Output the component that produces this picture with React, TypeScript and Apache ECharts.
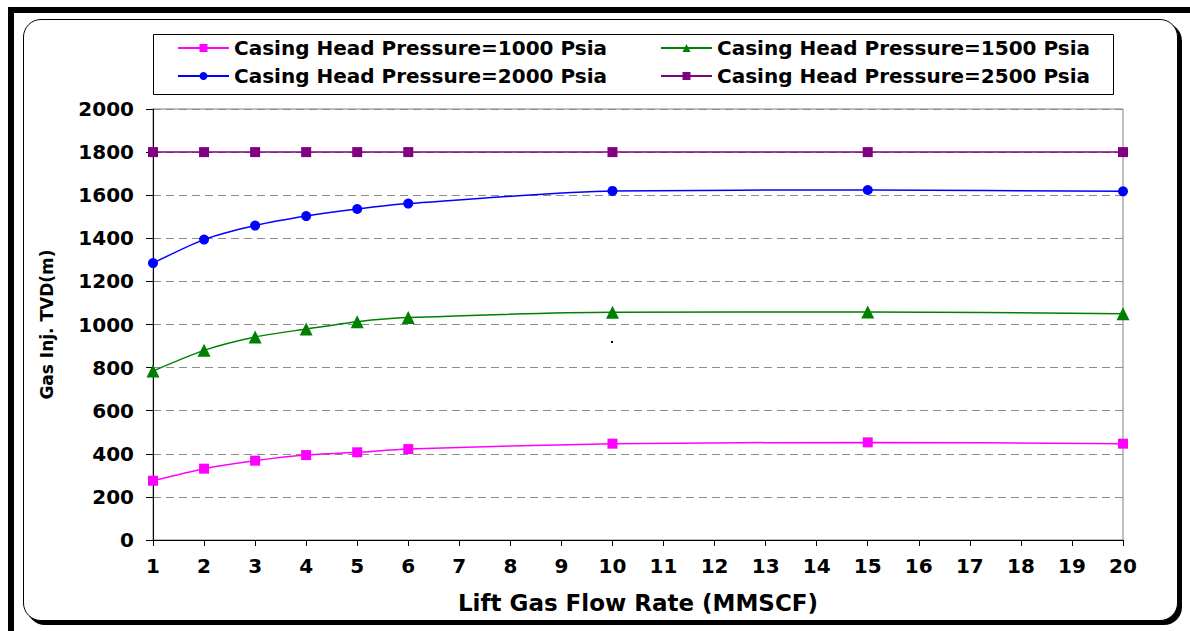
import React, { useEffect, useRef } from "react";
import * as echarts from "echarts";

const xValues = [1, 2, 3, 4, 5, 6, 10, 15, 20];
const chp1000 = [275, 331, 368, 394, 407, 422, 447, 453, 447];
const chp1500 = [784, 880, 942, 979, 1013, 1032, 1057, 1058, 1050];
const chp2000 = [1285, 1394, 1459, 1503, 1536, 1561, 1620, 1624, 1618];
const chp2500 = [1800, 1800, 1800, 1800, 1800, 1800, 1800, 1800, 1800];

const seriesNames = [
  "Casing Head Pressure=1000 Psia",
  "Casing Head Pressure=1500 Psia",
  "Casing Head Pressure=2000 Psia",
  "Casing Head Pressure=2500 Psia",
];
const xTitle = "Lift Gas Flow Rate (MMSCF)";
const yTitle = "Gas Inj. TVD(m)";

const FONT = "'DejaVu Sans', Verdana, sans-serif";

const toPairs = (vals: number[]) => xValues.map((x, i) => [x, vals[i]]);

export default function App() {
  const ref = useRef<HTMLDivElement>(null);
  useEffect(() => {
    if (!ref.current) return;
    const chart = echarts.init(ref.current, undefined, { renderer: "svg" });
    const mk = (
      name: string,
      vals: number[],
      color: string,
      symbol: string,
      size: number
    ) => ({
      name,
      type: "line",
      data: toPairs(vals),
      smooth: 0.25,
      symbol,
      symbolSize: size,
      showSymbol: true,
      lineStyle: { color, width: 1.5 },
      itemStyle: { color, borderWidth: 0 },
      z: 3,
    });
    const legendText = {
      color: "#000",
      fontFamily: FONT,
      fontWeight: "bold",
      fontSize: 20,
    };
    chart.setOption({
      animation: false,
      backgroundColor: "transparent",
      grid: {
        left: 153,
        right: 67,
        top: 109,
        bottom: 91,
        show: true,
        borderColor: "#808080",
        borderWidth: 1,
        backgroundColor: "transparent",
      },
      legend: [
        {
          data: [seriesNames[0], seriesNames[2]],
          orient: "vertical",
          left: 177,
          top: 38,
          padding: 0,
          itemGap: 8,
          itemWidth: 51,
          itemHeight: 10,
          textStyle: legendText,
          selectedMode: false,
        },
        {
          data: [seriesNames[1], seriesNames[3]],
          orient: "vertical",
          left: 660,
          top: 38,
          padding: 0,
          itemGap: 8,
          itemWidth: 51,
          itemHeight: 10,
          textStyle: legendText,
          selectedMode: false,
        },
      ],
      graphic: [
        {
          type: "rect",
          shape: { x: 153.5, y: 34.5, width: 960, height: 60 },
          style: { fill: "none", stroke: "#000", lineWidth: 1 },
          z: 0,
        },
        {
          type: "rect",
          shape: { x: 611, y: 341, width: 2, height: 2 },
          style: { fill: "#000" },
          z: 0,
        },
      ],
      xAxis: {
        type: "value",
        min: 1,
        max: 20,
        interval: 1,
        name: xTitle,
        nameLocation: "middle",
        nameGap: 51,
        nameTextStyle: {
          color: "#000",
          fontFamily: FONT,
          fontWeight: "bold",
          fontSize: 23,
        },
        axisLine: { show: true, lineStyle: { color: "#000", width: 1 } },
        axisTick: { show: true, length: 6, lineStyle: { color: "#000" } },
        axisLabel: {
          color: "#000",
          fontFamily: FONT,
          fontWeight: "bold",
          fontSize: 20,
          margin: 16,
        },
        splitLine: { show: false },
      },
      yAxis: {
        type: "value",
        min: 0,
        max: 2000,
        interval: 200,
        name: yTitle,
        nameLocation: "middle",
        nameGap: 98,
        nameTextStyle: {
          color: "#000",
          fontFamily: FONT,
          fontWeight: "bold",
          fontSize: 17,
        },
        axisLine: { show: true, lineStyle: { color: "#000", width: 1 } },
        axisTick: { show: true, length: 7, lineStyle: { color: "#000" } },
        axisLabel: {
          color: "#000",
          fontFamily: FONT,
          fontWeight: "bold",
          fontSize: 20,
          margin: 19,
          formatter: (v: number) => String(v),
        },
        splitLine: {
          show: true,
          lineStyle: { color: "#8c8c8c", type: [8, 5], width: 1 },
        },
      },
      series: [
        mk(seriesNames[0], chp1000, "#FF00FF", "rect", 10),
        mk(seriesNames[1], chp1500, "#008000", "triangle", 13),
        mk(seriesNames[2], chp2000, "#0000FF", "circle", 10),
        mk(seriesNames[3], chp2500, "#800080", "rect", 10),
      ],
    });
    return () => chart.dispose();
  }, []);

  return (
    <div
      style={{
        position: "fixed",
        left: 0,
        top: 0,
        width: 1190,
        height: 631,
        background: "#fff",
        overflow: "hidden",
      }}
    >
      <div
        style={{
          position: "absolute",
          left: 8,
          top: 7,
          width: 1190,
          height: 640,
          borderTop: "6px solid #000",
          borderLeft: "6px solid #000",
          boxSizing: "border-box",
        }}
      />
      <div
        style={{
          position: "absolute",
          left: 23,
          top: 19,
          width: 1155,
          height: 602,
          border: "1px solid #000",
          borderRadius: 18,
          boxShadow: "4px 4px 0 0 #000",
          boxSizing: "border-box",
          background: "#fff",
        }}
      />
      <div
        ref={ref}
        style={{ position: "absolute", left: 0, top: 0, width: 1190, height: 631 }}
      />
    </div>
  );
}
